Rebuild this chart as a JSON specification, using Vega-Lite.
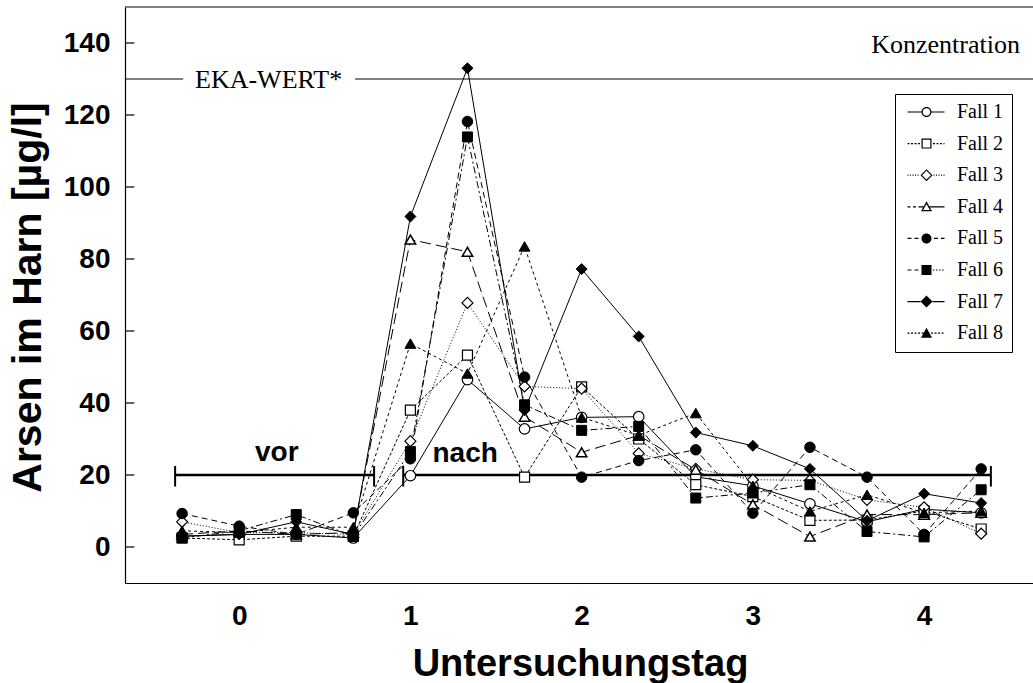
{
  "$schema": "https://vega.github.io/schema/vega-lite/v6.json",
  "width": 908,
  "height": 576,
  "autosize": {"type": "none"},
  "padding": {"left": 125, "top": 7, "right": 0, "bottom": 100},
  "background": "white",
  "config": {"view": {"stroke": null}, "font": "Liberation Sans"},
  "datasets": {
    "arsen": [
      {"Fall": "Fall 1", "Tag": -0.3333, "Wert": 3}, {"Fall": "Fall 1", "Tag": 0, "Wert": 3.5}, {"Fall": "Fall 1", "Tag": 0.3333, "Wert": 3.5}, {"Fall": "Fall 1", "Tag": 0.6667, "Wert": 2.5}, {"Fall": "Fall 1", "Tag": 1, "Wert": 19.8}, {"Fall": "Fall 1", "Tag": 1.3333, "Wert": 46.5}, {"Fall": "Fall 1", "Tag": 1.6667, "Wert": 32.8}, {"Fall": "Fall 1", "Tag": 2, "Wert": 36}, {"Fall": "Fall 1", "Tag": 2.3333, "Wert": 36.2}, {"Fall": "Fall 1", "Tag": 2.6667, "Wert": 19.5}, {"Fall": "Fall 1", "Tag": 3, "Wert": 17}, {"Fall": "Fall 1", "Tag": 3.3333, "Wert": 12}, {"Fall": "Fall 1", "Tag": 3.6667, "Wert": 7}, {"Fall": "Fall 1", "Tag": 4, "Wert": 10.5}, {"Fall": "Fall 1", "Tag": 4.3333, "Wert": 9.5},
      {"Fall": "Fall 2", "Tag": -0.3333, "Wert": 2.5}, {"Fall": "Fall 2", "Tag": 0, "Wert": 2}, {"Fall": "Fall 2", "Tag": 0.3333, "Wert": 3}, {"Fall": "Fall 2", "Tag": 0.6667, "Wert": 3}, {"Fall": "Fall 2", "Tag": 1, "Wert": 38}, {"Fall": "Fall 2", "Tag": 1.3333, "Wert": 53.3}, {"Fall": "Fall 2", "Tag": 1.6667, "Wert": 19.4}, {"Fall": "Fall 2", "Tag": 2, "Wert": 44.5}, {"Fall": "Fall 2", "Tag": 2.3333, "Wert": 30}, {"Fall": "Fall 2", "Tag": 2.6667, "Wert": 17.3}, {"Fall": "Fall 2", "Tag": 3, "Wert": 14}, {"Fall": "Fall 2", "Tag": 3.3333, "Wert": 7.4}, {"Fall": "Fall 2", "Tag": 3.6667, "Wert": 7.5}, {"Fall": "Fall 2", "Tag": 4, "Wert": 10}, {"Fall": "Fall 2", "Tag": 4.3333, "Wert": 5},
      {"Fall": "Fall 3", "Tag": -0.3333, "Wert": 7}, {"Fall": "Fall 3", "Tag": 0, "Wert": 4}, {"Fall": "Fall 3", "Tag": 0.3333, "Wert": 4}, {"Fall": "Fall 3", "Tag": 0.6667, "Wert": 3.5}, {"Fall": "Fall 3", "Tag": 1, "Wert": 29.4}, {"Fall": "Fall 3", "Tag": 1.3333, "Wert": 67.8}, {"Fall": "Fall 3", "Tag": 1.6667, "Wert": 44.6}, {"Fall": "Fall 3", "Tag": 2, "Wert": 44}, {"Fall": "Fall 3", "Tag": 2.3333, "Wert": 26}, {"Fall": "Fall 3", "Tag": 2.6667, "Wert": 21.7}, {"Fall": "Fall 3", "Tag": 3, "Wert": 18.7}, {"Fall": "Fall 3", "Tag": 3.3333, "Wert": 18.5}, {"Fall": "Fall 3", "Tag": 3.6667, "Wert": 13.1}, {"Fall": "Fall 3", "Tag": 4, "Wert": 11}, {"Fall": "Fall 3", "Tag": 4.3333, "Wert": 3.7},
      {"Fall": "Fall 4", "Tag": -0.3333, "Wert": 3.5}, {"Fall": "Fall 4", "Tag": 0, "Wert": 4.5}, {"Fall": "Fall 4", "Tag": 0.3333, "Wert": 3.5}, {"Fall": "Fall 4", "Tag": 0.6667, "Wert": 4}, {"Fall": "Fall 4", "Tag": 1, "Wert": 85.4}, {"Fall": "Fall 4", "Tag": 1.3333, "Wert": 82}, {"Fall": "Fall 4", "Tag": 1.6667, "Wert": 36.2}, {"Fall": "Fall 4", "Tag": 2, "Wert": 26.3}, {"Fall": "Fall 4", "Tag": 2.3333, "Wert": 31}, {"Fall": "Fall 4", "Tag": 2.6667, "Wert": 21.5}, {"Fall": "Fall 4", "Tag": 3, "Wert": 11.8}, {"Fall": "Fall 4", "Tag": 3.3333, "Wert": 2.9}, {"Fall": "Fall 4", "Tag": 3.6667, "Wert": 9}, {"Fall": "Fall 4", "Tag": 4, "Wert": 9}, {"Fall": "Fall 4", "Tag": 4.3333, "Wert": 9.5},
      {"Fall": "Fall 5", "Tag": -0.3333, "Wert": 9.3}, {"Fall": "Fall 5", "Tag": 0, "Wert": 5.8}, {"Fall": "Fall 5", "Tag": 0.3333, "Wert": 3.5}, {"Fall": "Fall 5", "Tag": 0.6667, "Wert": 9.5}, {"Fall": "Fall 5", "Tag": 1, "Wert": 24.5}, {"Fall": "Fall 5", "Tag": 1.3333, "Wert": 118.2}, {"Fall": "Fall 5", "Tag": 1.6667, "Wert": 47.2}, {"Fall": "Fall 5", "Tag": 2, "Wert": 19.4}, {"Fall": "Fall 5", "Tag": 2.3333, "Wert": 24}, {"Fall": "Fall 5", "Tag": 2.6667, "Wert": 27}, {"Fall": "Fall 5", "Tag": 3, "Wert": 9.4}, {"Fall": "Fall 5", "Tag": 3.3333, "Wert": 27.7}, {"Fall": "Fall 5", "Tag": 3.6667, "Wert": 19.4}, {"Fall": "Fall 5", "Tag": 4, "Wert": 3.5}, {"Fall": "Fall 5", "Tag": 4.3333, "Wert": 21.7},
      {"Fall": "Fall 6", "Tag": -0.3333, "Wert": 2.5}, {"Fall": "Fall 6", "Tag": 0, "Wert": 4.5}, {"Fall": "Fall 6", "Tag": 0.3333, "Wert": 9}, {"Fall": "Fall 6", "Tag": 0.6667, "Wert": 3}, {"Fall": "Fall 6", "Tag": 1, "Wert": 26.5}, {"Fall": "Fall 6", "Tag": 1.3333, "Wert": 113.9}, {"Fall": "Fall 6", "Tag": 1.6667, "Wert": 39.5}, {"Fall": "Fall 6", "Tag": 2, "Wert": 32.4}, {"Fall": "Fall 6", "Tag": 2.3333, "Wert": 33.5}, {"Fall": "Fall 6", "Tag": 2.6667, "Wert": 13.6}, {"Fall": "Fall 6", "Tag": 3, "Wert": 15}, {"Fall": "Fall 6", "Tag": 3.3333, "Wert": 17.3}, {"Fall": "Fall 6", "Tag": 3.6667, "Wert": 4.3}, {"Fall": "Fall 6", "Tag": 4, "Wert": 2.8}, {"Fall": "Fall 6", "Tag": 4.3333, "Wert": 15.9},
      {"Fall": "Fall 7", "Tag": -0.3333, "Wert": 3}, {"Fall": "Fall 7", "Tag": 0, "Wert": 3.5}, {"Fall": "Fall 7", "Tag": 0.3333, "Wert": 7}, {"Fall": "Fall 7", "Tag": 0.6667, "Wert": 3.5}, {"Fall": "Fall 7", "Tag": 1, "Wert": 91.8}, {"Fall": "Fall 7", "Tag": 1.3333, "Wert": 133}, {"Fall": "Fall 7", "Tag": 1.6667, "Wert": 38}, {"Fall": "Fall 7", "Tag": 2, "Wert": 77.2}, {"Fall": "Fall 7", "Tag": 2.3333, "Wert": 58.5}, {"Fall": "Fall 7", "Tag": 2.6667, "Wert": 31.8}, {"Fall": "Fall 7", "Tag": 3, "Wert": 28.1}, {"Fall": "Fall 7", "Tag": 3.3333, "Wert": 21.7}, {"Fall": "Fall 7", "Tag": 3.6667, "Wert": 7.3}, {"Fall": "Fall 7", "Tag": 4, "Wert": 14.8}, {"Fall": "Fall 7", "Tag": 4.3333, "Wert": 12.2},
      {"Fall": "Fall 8", "Tag": -0.3333, "Wert": 4.5}, {"Fall": "Fall 8", "Tag": 0, "Wert": 4}, {"Fall": "Fall 8", "Tag": 0.3333, "Wert": 5.5}, {"Fall": "Fall 8", "Tag": 0.6667, "Wert": 5.5}, {"Fall": "Fall 8", "Tag": 1, "Wert": 56.5}, {"Fall": "Fall 8", "Tag": 1.3333, "Wert": 48.2}, {"Fall": "Fall 8", "Tag": 1.6667, "Wert": 83.5}, {"Fall": "Fall 8", "Tag": 2, "Wert": 36}, {"Fall": "Fall 8", "Tag": 2.3333, "Wert": 31}, {"Fall": "Fall 8", "Tag": 2.6667, "Wert": 37.2}, {"Fall": "Fall 8", "Tag": 3, "Wert": 17}, {"Fall": "Fall 8", "Tag": 3.3333, "Wert": 9.9}, {"Fall": "Fall 8", "Tag": 3.6667, "Wert": 14.5}, {"Fall": "Fall 8", "Tag": 4, "Wert": 9.5}, {"Fall": "Fall 8", "Tag": 4.3333, "Wert": 10}
    ],
    "bars": [
      {"Phase": "vor", "von": -0.374, "bis": 0.788},
      {"Phase": "nach", "von": 0.958, "bis": 4.39}
    ],
    "caps": [
      {"Tag": -0.374}, {"Tag": 0.788}, {"Tag": 0.958}, {"Tag": 4.39}
    ],
    "eka": [
      {"von": -0.6667, "bis": -0.327},
      {"von": 0.677, "bis": 4.64}
    ],
    "yticks": [
      {"Wert": 0}, {"Wert": 20}, {"Wert": 40}, {"Wert": 60}, {"Wert": 80}, {"Wert": 100}, {"Wert": 120}, {"Wert": 140}
    ],
    "one": [{}]
  },
  "layer": [
    {
      "data": {"name": "arsen"},
      "transform": [{"filter": "datum.Fall === 'Fall 1'"}],
      "mark": {"type": "line", "color": "black", "strokeWidth": 1},
      "encoding": {
        "x": {
          "field": "Tag", "type": "quantitative",
          "scale": {"domain": [-0.6667, 4.636], "nice": false, "zero": false},
          "axis": {
            "title": "Untersuchungstag", "values": [0, 1, 2, 3, 4], "format": "d",
            "ticks": false, "grid": false, "domain": true, "domainColor": "black", "domainWidth": 1,
            "labelFont": "Liberation Sans", "labelFontWeight": "bold", "labelFontSize": 28, "labelColor": "black", "labelPadding": 19,
            "titleFont": "Liberation Sans", "titleFontWeight": "bold", "titleFontSize": 38, "titleColor": "black",
            "titleBaseline": "alphabetic", "titleY": 92, "titleX": 455, "titleAlign": "center"
          }
        },
        "y": {
          "field": "Wert", "type": "quantitative",
          "scale": {"domain": [-10, 150], "nice": false, "zero": false},
          "axis": {
            "title": "Arsen im Harn [µg/l]", "values": [0, 20, 40, 60, 80, 100, 120, 140],
            "ticks": false, "grid": false,
            "domain": true, "domainColor": "black", "domainWidth": 1.2,
            "labelFont": "Liberation Sans", "labelFontWeight": "bold", "labelFontSize": 28, "labelColor": "black", "labelPadding": 15,
            "titleFont": "Liberation Sans", "titleFontWeight": "bold", "titleFontSize": 41, "titleColor": "black",
            "titleAngle": -90, "titleX": -97, "titleY": 290, "titleAlign": "center", "titleBaseline": "middle"
          }
        }
      }
    },
    {
      "data": {"name": "arsen"},
      "transform": [{"filter": "datum.Fall === 'Fall 2'"}],
      "mark": {"type": "line", "color": "black", "strokeWidth": 1, "strokeDash": [3, 2]},
      "encoding": {"x": {"field": "Tag", "type": "quantitative"}, "y": {"field": "Wert", "type": "quantitative"}}
    },
    {
      "data": {"name": "arsen"},
      "transform": [{"filter": "datum.Fall === 'Fall 3'"}],
      "mark": {"type": "line", "color": "black", "strokeWidth": 1, "strokeDash": [1, 2]},
      "encoding": {"x": {"field": "Tag", "type": "quantitative"}, "y": {"field": "Wert", "type": "quantitative"}}
    },
    {
      "data": {"name": "arsen"},
      "transform": [{"filter": "datum.Fall === 'Fall 4'"}],
      "mark": {"type": "line", "color": "black", "strokeWidth": 1, "strokeDash": [11, 5]},
      "encoding": {"x": {"field": "Tag", "type": "quantitative"}, "y": {"field": "Wert", "type": "quantitative"}}
    },
    {
      "data": {"name": "arsen"},
      "transform": [{"filter": "datum.Fall === 'Fall 5'"}],
      "mark": {"type": "line", "color": "black", "strokeWidth": 1, "strokeDash": [6, 4]},
      "encoding": {"x": {"field": "Tag", "type": "quantitative"}, "y": {"field": "Wert", "type": "quantitative"}}
    },
    {
      "data": {"name": "arsen"},
      "transform": [{"filter": "datum.Fall === 'Fall 6'"}],
      "mark": {"type": "line", "color": "black", "strokeWidth": 1, "strokeDash": [7, 3, 2, 3]},
      "encoding": {"x": {"field": "Tag", "type": "quantitative"}, "y": {"field": "Wert", "type": "quantitative"}}
    },
    {
      "data": {"name": "arsen"},
      "transform": [{"filter": "datum.Fall === 'Fall 7'"}],
      "mark": {"type": "line", "color": "black", "strokeWidth": 1},
      "encoding": {"x": {"field": "Tag", "type": "quantitative"}, "y": {"field": "Wert", "type": "quantitative"}}
    },
    {
      "data": {"name": "arsen"},
      "transform": [{"filter": "datum.Fall === 'Fall 8'"}],
      "mark": {"type": "line", "color": "black", "strokeWidth": 1, "strokeDash": [3, 3]},
      "encoding": {"x": {"field": "Tag", "type": "quantitative"}, "y": {"field": "Wert", "type": "quantitative"}}
    },
    {
      "data": {"name": "yticks"},
      "mark": {"type": "rule", "color": "black", "strokeWidth": 1.2},
      "encoding": {
        "x": {"datum": -0.6667},
        "x2": {"datum": -0.612},
        "y": {"field": "Wert", "type": "quantitative"}
      }
    },
    {
      "data": {"name": "one"},
      "mark": {"type": "rule", "color": "black", "strokeWidth": 1},
      "encoding": {
        "x": {"datum": -0.6667},
        "x2": {"datum": 4.64},
        "y": {"datum": 150}
      }
    },
    {
      "data": {"name": "eka"},
      "mark": {"type": "rule", "color": "black", "strokeWidth": 1},
      "encoding": {
        "x": {"field": "von", "type": "quantitative"},
        "x2": {"field": "bis"},
        "y": {"datum": 130}
      }
    },
    {
      "data": {"name": "one"},
      "mark": {"type": "text", "text": "EKA-WERT*", "font": "Liberation Serif", "fontSize": 26, "align": "center", "baseline": "alphabetic", "color": "black"},
      "encoding": {"x": {"datum": 0.172}, "y": {"datum": 127.6}}
    },
    {
      "data": {"name": "one"},
      "mark": {"type": "text", "text": "Konzentration", "font": "Liberation Serif", "fontSize": 26, "align": "right", "baseline": "alphabetic", "color": "black"},
      "encoding": {"x": {"datum": 4.56}, "y": {"datum": 137.2}}
    },
    {
      "data": {"name": "bars"},
      "mark": {"type": "rule", "color": "black", "strokeWidth": 2.5},
      "encoding": {
        "x": {"field": "von", "type": "quantitative"},
        "x2": {"field": "bis"},
        "y": {"datum": 20}
      }
    },
    {
      "data": {"name": "caps"},
      "mark": {"type": "rule", "color": "black", "strokeWidth": 2},
      "encoding": {
        "x": {"field": "Tag", "type": "quantitative"},
        "y": {"datum": 22.5},
        "y2": {"datum": 16.8}
      }
    },
    {
      "data": {"name": "one"},
      "mark": {"type": "text", "text": "vor", "font": "Liberation Sans", "fontWeight": "bold", "fontSize": 28, "align": "center", "baseline": "alphabetic", "color": "black"},
      "encoding": {"x": {"datum": 0.22}, "y": {"datum": 23.8}}
    },
    {
      "data": {"name": "one"},
      "mark": {"type": "text", "text": "nach", "font": "Liberation Sans", "fontWeight": "bold", "fontSize": 28, "align": "center", "baseline": "alphabetic", "color": "black"},
      "encoding": {"x": {"datum": 1.32}, "y": {"datum": 23.5}}
    },
    {
      "data": {"name": "arsen"},
      "transform": [{"filter": "datum.Fall === 'Fall 1'"}],
      "mark": {"type": "point", "shape": "circle", "filled": true, "fill": "white", "stroke": "black", "strokeWidth": 1.2, "size": 110, "opacity": 1},
      "encoding": {"x": {"field": "Tag", "type": "quantitative"}, "y": {"field": "Wert", "type": "quantitative"}}
    },
    {
      "data": {"name": "arsen"},
      "transform": [{"filter": "datum.Fall === 'Fall 2'"}],
      "mark": {"type": "point", "shape": "square", "filled": true, "fill": "white", "stroke": "black", "strokeWidth": 1.2, "size": 100, "opacity": 1},
      "encoding": {"x": {"field": "Tag", "type": "quantitative"}, "y": {"field": "Wert", "type": "quantitative"}}
    },
    {
      "data": {"name": "arsen"},
      "transform": [{"filter": "datum.Fall === 'Fall 3'"}],
      "mark": {"type": "point", "shape": "diamond", "filled": true, "fill": "white", "stroke": "black", "strokeWidth": 1.2, "size": 120, "opacity": 1},
      "encoding": {"x": {"field": "Tag", "type": "quantitative"}, "y": {"field": "Wert", "type": "quantitative"}}
    },
    {
      "data": {"name": "arsen"},
      "transform": [{"filter": "datum.Fall === 'Fall 4'"}],
      "mark": {"type": "point", "shape": "triangle-up", "filled": true, "fill": "white", "stroke": "black", "strokeWidth": 1.5, "size": 110, "opacity": 1},
      "encoding": {"x": {"field": "Tag", "type": "quantitative"}, "y": {"field": "Wert", "type": "quantitative"}}
    },
    {
      "data": {"name": "arsen"},
      "transform": [{"filter": "datum.Fall === 'Fall 5'"}],
      "mark": {"type": "point", "shape": "circle", "filled": true, "fill": "black", "stroke": "black", "strokeWidth": 1, "size": 110, "opacity": 1},
      "encoding": {"x": {"field": "Tag", "type": "quantitative"}, "y": {"field": "Wert", "type": "quantitative"}}
    },
    {
      "data": {"name": "arsen"},
      "transform": [{"filter": "datum.Fall === 'Fall 6'"}],
      "mark": {"type": "point", "shape": "square", "filled": true, "fill": "black", "stroke": "black", "strokeWidth": 1, "size": 100, "opacity": 1},
      "encoding": {"x": {"field": "Tag", "type": "quantitative"}, "y": {"field": "Wert", "type": "quantitative"}}
    },
    {
      "data": {"name": "arsen"},
      "transform": [{"filter": "datum.Fall === 'Fall 7'"}],
      "mark": {"type": "point", "shape": "diamond", "filled": true, "fill": "black", "stroke": "black", "strokeWidth": 1, "size": 120, "opacity": 1},
      "encoding": {"x": {"field": "Tag", "type": "quantitative"}, "y": {"field": "Wert", "type": "quantitative"}}
    },
    {
      "data": {"name": "arsen"},
      "transform": [{"filter": "datum.Fall === 'Fall 8'"}],
      "mark": {"type": "point", "shape": "triangle-up", "filled": true, "fill": "black", "stroke": "black", "strokeWidth": 1, "size": 120, "opacity": 1},
      "encoding": {"x": {"field": "Tag", "type": "quantitative"}, "y": {"field": "Wert", "type": "quantitative"}}
    },
    {
      "data": {"name": "arsen"},
      "transform": [{"filter": "false"}],
      "mark": {"type": "point", "filled": true, "color": "black", "fill": "black", "size": 400, "opacity": 1},
      "encoding": {
        "shape": {
          "field": "Fall", "type": "nominal",
          "scale": {
            "domain": ["Fall 1", "Fall 2", "Fall 3", "Fall 4", "Fall 5", "Fall 6", "Fall 7", "Fall 8"],
            "range": [
              "M-0.55,-0.06H0.85V0.06H-0.55ZM1.85,-0.06H3.15V0.06H1.85ZM0.85,0A0.5,0.5,0,1,1,1.85,0A0.5,0.5,0,1,1,0.85,0ZM0.97,0A0.38,0.38,0,1,0,1.73,0A0.38,0.38,0,1,0,0.97,0Z",
              "M-0.55,-0.06H-0.35V0.06H-0.55ZM-0.2,-0.06H0V0.06H-0.2ZM0.15,-0.06H0.35V0.06H0.15ZM0.5,-0.06H0.7V0.06H0.5ZM2,-0.06H2.2V0.06H2ZM2.35,-0.06H2.55V0.06H2.35ZM2.7,-0.06H2.9V0.06H2.7ZM3.05,-0.06H3.15V0.06H3.05ZM0.85,-0.5H1.85V0.5H0.85ZM0.97,-0.38V0.38H1.73V-0.38Z",
              "M-0.55,-0.06H-0.45V0.06H-0.55ZM-0.3,-0.06H-0.2V0.06H-0.3ZM-0.05,-0.06H0.05V0.06H-0.05ZM0.2,-0.06H0.3V0.06H0.2ZM0.45,-0.06H0.55V0.06H0.45ZM2.05,-0.06H2.15V0.06H2.05ZM2.3,-0.06H2.4V0.06H2.3ZM2.55,-0.06H2.65V0.06H2.55ZM2.8,-0.06H2.9V0.06H2.8ZM3.05,-0.06H3.15V0.06H3.05ZM1.35,-0.6L1.95,0L1.35,0.6L0.75,0ZM1.35,-0.44L0.91,0L1.35,0.44L1.79,0Z",
              "M-0.55,-0.06H-0.25V0.06H-0.55ZM0,-0.06H0.3V0.06H0ZM0.55,-0.06H1.05V0.06H0.55ZM1.65,-0.06H3.15V0.06H1.65ZM1.35,-0.55L1.9,0.45L0.8,0.45ZM1.35,-0.28L1.02,0.32L1.68,0.32Z",
              "M-0.55,-0.06H-0.15V0.06H-0.55ZM0.15,-0.06H0.55V0.06H0.15ZM2.1,-0.06H2.5V0.06H2.1ZM2.8,-0.06H3.15V0.06H2.8ZM0.85,0A0.5,0.5,0,1,1,1.85,0A0.5,0.5,0,1,1,0.85,0Z",
              "M-0.55,-0.06H-0.15V0.06H-0.55ZM0.15,-0.06H0.55V0.06H0.15ZM2,-0.06H2.15V0.06H2ZM2.3,-0.06H2.45V0.06H2.3ZM2.6,-0.06H2.75V0.06H2.6ZM2.9,-0.06H3.05V0.06H2.9ZM0.85,-0.5H1.85V0.5H0.85Z",
              "M-0.55,-0.06H0.75V0.06H-0.55ZM1.95,-0.06H3.15V0.06H1.95ZM1.35,-0.6L1.95,0L1.35,0.6L0.75,0Z",
              "M-0.55,-0.06H-0.35V0.06H-0.55ZM-0.2,-0.06H0V0.06H-0.2ZM0.15,-0.06H0.35V0.06H0.15ZM0.5,-0.06H0.7V0.06H0.5ZM0.85,-0.06H1.05V0.06H0.85ZM1.8,-0.06H2V0.06H1.8ZM2.15,-0.06H2.35V0.06H2.15ZM2.5,-0.06H2.7V0.06H2.5ZM2.85,-0.06H3.05V0.06H2.85ZM1.35,-0.55L1.9,0.45L0.8,0.45Z"
            ]
          },
          "legend": {
            "title": null, "orient": "none", "legendX": 770, "legendY": 87,
            "padding": 8, "rowPadding": 11.6, "labelOffset": 34, "symbolSize": 400,
            "symbolStrokeWidth": 0, "symbolFillColor": "black",
            "labelFont": "Liberation Serif", "labelFontSize": 20, "labelColor": "black",
            "strokeColor": "black", "fillColor": "white"
          }
        }
      }
    }
  ]
}
